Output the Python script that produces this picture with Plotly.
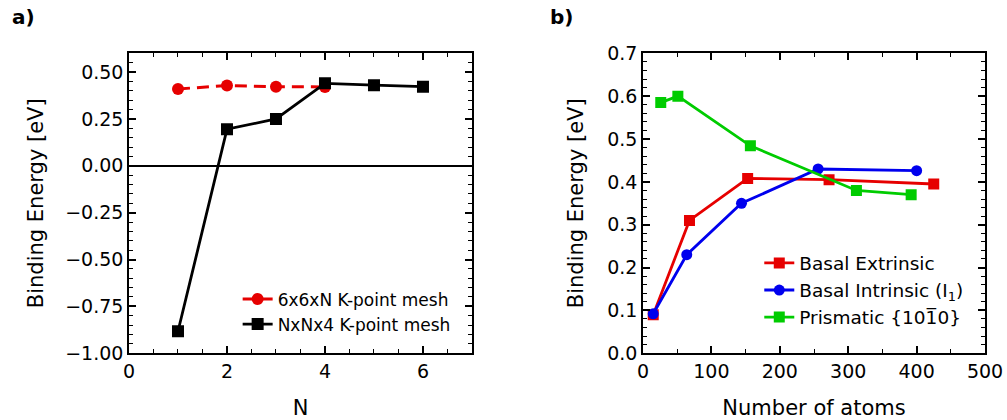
import plotly.graph_objects as go

# ---- Panel a data ----
n_red = [1, 2, 3, 4]
be_red = [0.41, 0.428, 0.422, 0.421]
n_black = [1, 2, 3, 4, 5, 6]
be_black = [-0.883, 0.195, 0.25, 0.44, 0.43, 0.422]

# ---- Panel b data ----
atoms_ext = [15, 68, 153, 272, 425]
be_ext = [0.09, 0.31, 0.408, 0.405, 0.395]
atoms_int = [15, 64, 144, 256, 400]
be_int = [0.092, 0.23, 0.35, 0.43, 0.426]
atoms_pri = [26, 51, 157, 312, 392]
be_pri = [0.585, 0.6, 0.484, 0.38, 0.37]

RED = "#e60000"
BLUE = "#0000ee"
GREEN = "#00cc00"
FONT = "DejaVu Sans"

fig = go.Figure()

fig.add_trace(go.Scatter(x=n_red, y=be_red, mode="lines+markers", name="6x6xN K-point mesh",
                         line=dict(color=RED, width=3, dash="12px,7px"),
                         marker=dict(symbol="circle", size=12, color=RED),
                         xaxis="x", yaxis="y", legend="legend"))
fig.add_trace(go.Scatter(x=n_black, y=be_black, mode="lines+markers", name="NxNx4 K-point mesh",
                         line=dict(color="black", width=2.8),
                         marker=dict(symbol="square", size=12, color="black"),
                         xaxis="x", yaxis="y", legend="legend"))

fig.add_trace(go.Scatter(x=atoms_ext, y=be_ext, mode="lines+markers", name="Basal Extrinsic",
                         line=dict(color=RED, width=2.8),
                         marker=dict(symbol="square", size=11, color=RED),
                         xaxis="x2", yaxis="y2", legend="legend2"))
fig.add_trace(go.Scatter(x=atoms_int, y=be_int, mode="lines+markers", name="Basal Intrinsic (I<sub>1</sub>)",
                         line=dict(color=BLUE, width=2.8),
                         marker=dict(symbol="circle", size=11, color=BLUE),
                         xaxis="x2", yaxis="y2", legend="legend2"))
fig.add_trace(go.Scatter(x=atoms_pri, y=be_pri, mode="lines+markers", name="Prismatic {101\u03050}",
                         line=dict(color=GREEN, width=2.8),
                         marker=dict(symbol="square", size=11, color=GREEN),
                         xaxis="x2", yaxis="y2", legend="legend2"))

axis_common = dict(showline=True, linecolor="black", linewidth=1.5, mirror="allticks",
                   ticks="inside", ticklen=7, tickwidth=1.5, tickcolor="black",
                   showgrid=False, zeroline=False,
                   tickfont=dict(family=FONT, size=19, color="black"),
                   automargin=False)

ydom = [0.159, 0.873]
fig.update_layout(
    width=1007, height=420,
    margin=dict(l=0, r=0, t=0, b=0),
    paper_bgcolor="white", plot_bgcolor="white",
    font=dict(family=FONT, color="black"),
    xaxis=dict(domain=[0.1281, 0.4687], range=[0, 7], dtick=2, tick0=0,
               minor=dict(dtick=0.5, ticks="inside", ticklen=4, tickwidth=1.2, tickcolor="black"),
               title=dict(text="N", font=dict(family=FONT, size=21), standoff=20),
               anchor="y", **axis_common),
    yaxis=dict(domain=ydom, range=[-1.0, 0.6], dtick=0.25, tick0=0, tickformat=".2f",
               minor=dict(dtick=0.05, ticks="inside", ticklen=4, tickwidth=1.2, tickcolor="black"),
               title=dict(text="Binding Energy [eV]", font=dict(family=FONT, size=21), standoff=16),
               anchor="x", **{**axis_common, "zeroline": True}, zerolinecolor="black", zerolinewidth=2),
    xaxis2=dict(domain=[0.6385, 0.9782], range=[0, 500], dtick=100, tick0=0,
                minor=dict(dtick=50, ticks="inside", ticklen=4, tickwidth=1.2, tickcolor="black"),
                title=dict(text="Number of atoms", font=dict(family=FONT, size=21), standoff=20),
                anchor="y2", **axis_common),
    yaxis2=dict(domain=ydom, range=[0, 0.7], dtick=0.1, tick0=0, tickformat=".1f",
                minor=dict(dtick=0.02, ticks="inside", ticklen=4, tickwidth=1.2, tickcolor="black"),
                title=dict(text="Binding Energy [eV]", font=dict(family=FONT, size=21), standoff=18),
                anchor="x2", **axis_common),
    legend=dict(x=0.236, y=0.33, xanchor="left", yanchor="top", bgcolor="rgba(0,0,0,0)",
                font=dict(family=FONT, size=17, color="black"), tracegroupgap=0,
                itemwidth=30),
    legend2=dict(x=0.754, y=0.418, xanchor="left", yanchor="top", bgcolor="rgba(0,0,0,0)",
                 font=dict(family=FONT, size=18.5, color="black"), tracegroupgap=0,
                 itemwidth=30),
    showlegend=True,
)

fig.add_annotation(text="<b>a)</b>", x=10 / 1007, y=1 - 17 / 420, xref="paper", yref="paper",
                   xanchor="left", yanchor="middle", showarrow=False,
                   font=dict(family=FONT, size=20, color="black"))
fig.add_annotation(text="<b>b)</b>", x=548 / 1007, y=1 - 17 / 420, xref="paper", yref="paper",
                   xanchor="left", yanchor="middle", showarrow=False,
                   font=dict(family=FONT, size=20, color="black"))

fig.write_html("out.html")
